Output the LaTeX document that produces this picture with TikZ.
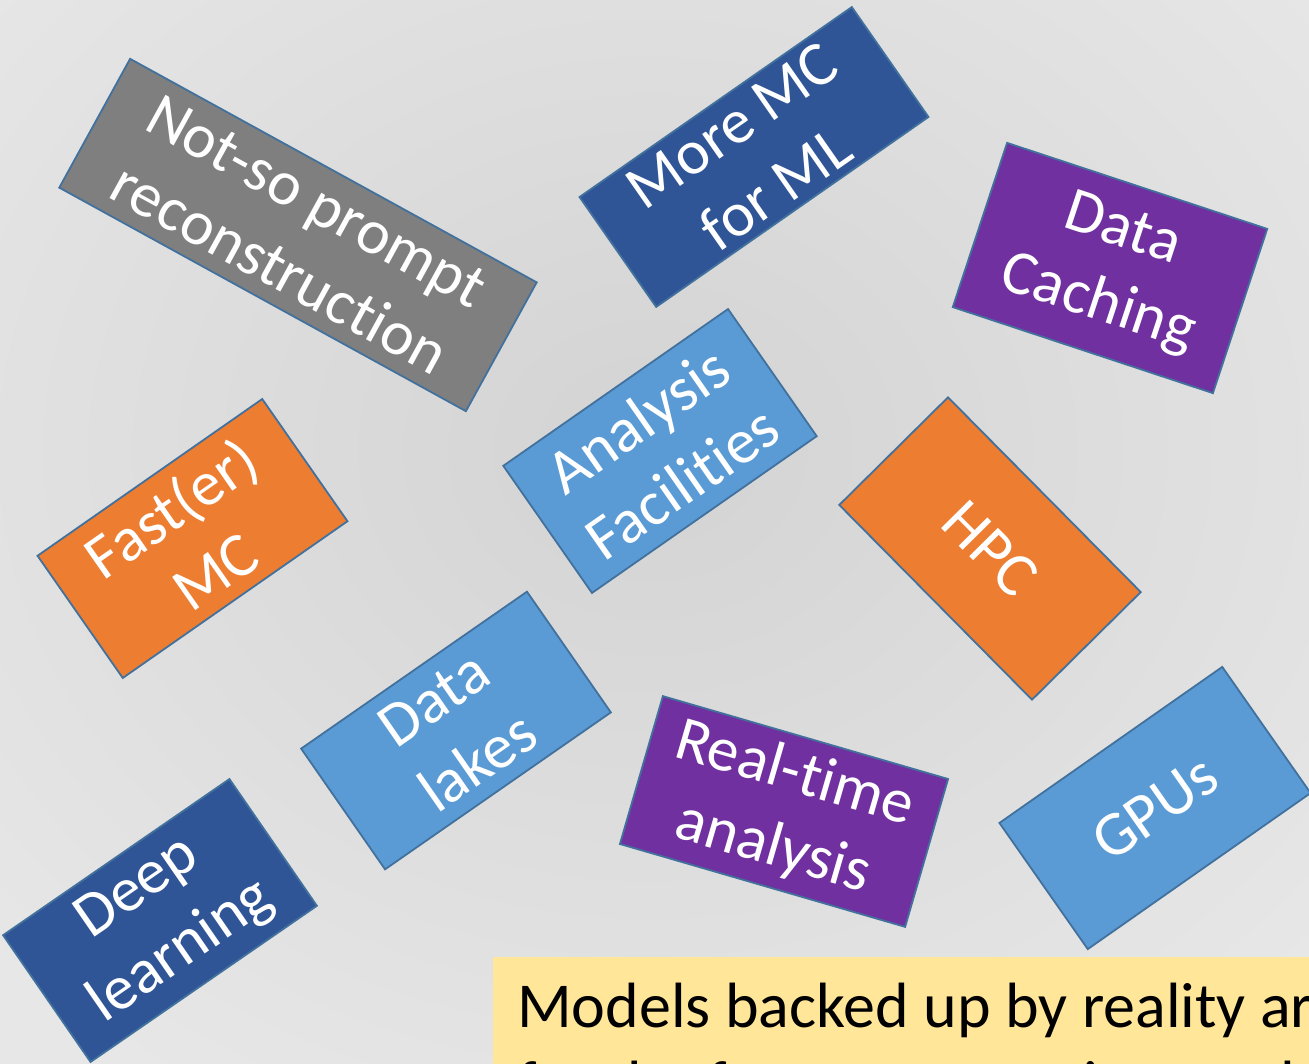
\documentclass[tikz,border=0pt]{standalone}
\usepackage{fontspec}
\setmainfont{Carlito}[Ligatures={NoCommon}]

\definecolor{bgmid}{HTML}{D3D3D3}
\definecolor{bgedge}{HTML}{E7E7E7}
\definecolor{cardedge}{HTML}{41719C}
\definecolor{slate}{HTML}{7F7F7F}
\definecolor{navy}{HTML}{2F5597}
\definecolor{plum}{HTML}{7030A0}
\definecolor{tangerine}{HTML}{ED7D31}
\definecolor{sky}{HTML}{5B9BD5}
\definecolor{notefill}{HTML}{FFE699}

\begin{document}
\begin{tikzpicture}[x=1pt,y=-1pt,
  card/.style={draw=cardedge, line width=1.8pt, inner sep=0pt, text=white,
    align=center, font=\fontsize{63}{77}\selectfont},
  notetext/.style={inner sep=0pt, anchor=base west, text=black,
    font=\fontsize{64}{78}\selectfont}
]
\useasboundingbox (0,0) rectangle (1309,1063);
\clip (0,0) rectangle (1309,1063);

% slide background
\shade[inner color=bgmid, outer color=bgedge] (-250,-300) rectangle (1550,1200);

% topic cards
\node[card, fill=slate, minimum width=464pt, minimum height=147pt, rotate=-28.8]
  (prompt) at (298,235) {Not-so prompt\\reconstruction};
\node[card, fill=navy, minimum width=332pt, minimum height=134pt, rotate=34.9]
  (moremc) at (754,157) {More MC\\for ML};
\node[card, fill=plum, minimum width=274pt, minimum height=173pt, rotate=-18.3]
  (caching) at (1110,268) {Data\\Caching};
\node[card, fill=tangerine, minimum width=274pt, minimum height=149pt, rotate=34.9]
  (fastmc) at (192.5,538.5) {Fast(er)\\MC};
\node[card, fill=sky, minimum width=274pt, minimum height=155pt, rotate=34.9]
  (facilities) at (660,451) {Analysis\\Facilities};
\node[card, fill=tangerine, minimum width=274pt, minimum height=153pt, rotate=-45.3]
  (hpc) at (990,548.5) {HPC};
\node[card, fill=sky, minimum width=275pt, minimum height=147pt, rotate=34.8]
  (lakes) at (456,730.5) {Data\\lakes};
\node[card, fill=plum, minimum width=297pt, minimum height=154pt, rotate=-16.2]
  (realtime) at (784,811.5) {Real-time\\analysis};
\node[card, fill=sky, minimum width=272pt, minimum height=154pt, rotate=35]
  (gpus) at (1155,808) {GPUs};
\node[card, fill=navy, minimum width=275pt, minimum height=154pt, rotate=34.6]
  (deep) at (160,920.5) {Deep\\learning};

% note box in the lower right corner
\node[fill=notefill, inner sep=0pt, anchor=north west,
  minimum width=840pt, minimum height=140pt] (note) at (493,957) {};
\node[notetext] (noteA) at (517,1027) {Models backed up by reality are};
\node[notetext] (noteB) at (517,1105) {for the future computing models};
\end{tikzpicture}
\end{document}
